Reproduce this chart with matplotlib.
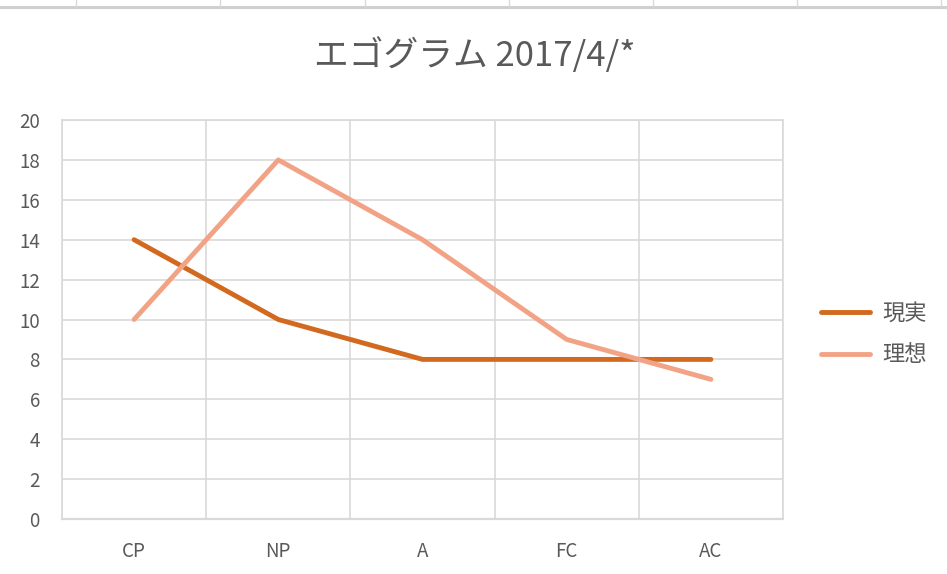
import matplotlib
matplotlib.use("Agg")
import matplotlib.pyplot as plt
from matplotlib.lines import Line2D

plt.rcParams['font.family'] = ['Noto Sans CJK JP', 'DejaVu Sans']

categories = ["CP", "NP", "A", "FC", "AC"]
genjitsu = [14, 10, 8, 8, 8]
risou = [10, 18, 14, 9, 7]
series_names = ["現実", "理想"]
yticks = list(range(0, 21, 2))

W, H = 947, 574
fig = plt.figure(figsize=(W / 100, H / 100), dpi=100)
ax = fig.add_axes([62 / W, 1 - 519 / H, (783 - 62) / W, (519 - 120) / H])

grid_c = "#D9D9D9"
text_c = "#595959"

x = list(range(len(categories)))
ax.plot(x, genjitsu, color="#D2691E", lw=3.5, solid_capstyle="round", label=series_names[0], zorder=3)
ax.plot(x, risou, color="#F2A385", lw=3.5, solid_capstyle="round", label=series_names[1], zorder=3)

ax.set_xlim(-0.5, len(categories) - 0.5)
ax.set_ylim(0, 20)
ax.set_yticks(yticks)
ax.set_xticks(x)
ax.set_xticklabels(categories)
ax.set_xticks([i - 0.5 for i in range(len(categories) + 1)], minor=True)
ax.grid(True, axis="y", color=grid_c, lw=1.2)
ax.grid(True, axis="x", which="minor", color=grid_c, lw=1.2)
ax.tick_params(axis="both", which="both", length=0, colors=text_c, labelsize=13.5)
ax.tick_params(axis="x", pad=16)
ax.tick_params(axis="y", pad=16)
for s in ax.spines.values():
    s.set_color(grid_c)
    s.set_linewidth(1.2)
ax.spines["bottom"].set_linewidth(1.6)

fig.text(475 / W, 1 - 56 / H, "エゴグラム 2017/4/*", ha="center", va="center",
         fontsize=25, color=text_c)

leg = ax.legend(loc="center left", bbox_to_anchor=(821 / W, 1 - 334 / H),
                bbox_transform=fig.transFigure, frameon=False, fontsize=16,
                handlelength=2.2, labelspacing=0.85, handletextpad=0.55,
                borderpad=0, borderaxespad=0)
for t in leg.get_texts():
    t.set_color(text_c)

# spreadsheet cell borders at the top of the screenshot
fig.add_artist(Line2D([0, 1], [1 - 7 / H] * 2, color="#D0D0D0", lw=2.2))
for xv in [76, 220, 365, 509, 653, 797, 941]:
    fig.add_artist(Line2D([xv / W] * 2, [1 - 6 / H, 1], color="#DADADA", lw=1))

fig.savefig("out.png", dpi=100)
